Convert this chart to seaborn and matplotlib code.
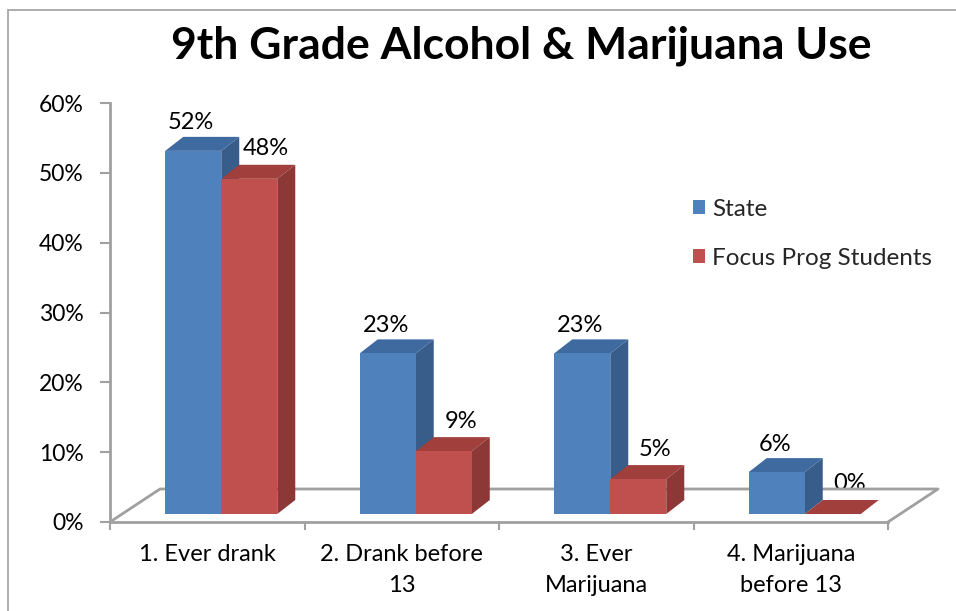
import matplotlib
matplotlib.use("Agg")
import matplotlib.pyplot as plt
import matplotlib.transforms as mtransforms
from matplotlib.patches import Polygon, Patch
from matplotlib.lines import Line2D
import seaborn as sns
import pandas as pd
import numpy as np

categories = ["1. Ever drank", "2. Drank before\n13", "3. Ever\nMarijuana", "4. Marijuana\nbefore 13"]
series = ["State", "Focus Prog Students"]
state_values = [52, 23, 23, 6]
focus_values = [48, 9, 5, 0]
y_ticks = [0, 10, 20, 30, 40, 50, 60]
y_tick_labels = ["0%", "10%", "20%", "30%", "40%", "50%", "60%"]
title = "9th Grade Alcohol & Marijuana Use"

front_colors = ["#4F81BD", "#C0504D"]
side_colors = ["#385D8A", "#8C3836"]
top_colors = ["#3E6AA0", "#A03F3B"]

df = pd.DataFrame({
    "category": categories * 2,
    "series": [series[0]] * 4 + [series[1]] * 4,
    "value": state_values + focus_values,
})

sns.set_style("white")
plt.rcParams["font.family"] = ["Lato", "DejaVu Sans"]

DPI = 100
fig = plt.figure(figsize=(9.56, 6.11), dpi=DPI)
W, H = 956, 611
ax = fig.add_axes([110 / W, 1 - 522 / H, (888 - 110) / W, (522 - 103) / H])
ax.patch.set_alpha(0)

sns.barplot(data=df, x="category", y="value", hue="series", order=categories,
            hue_order=series, palette=front_colors, width=0.576, saturation=1,
            legend=False, ax=ax, edgecolor="none", linewidth=0, zorder=3)

ax.set_xlim(-0.5, 3.5)
ax.set_ylim(0, 60)
ax.set_xlabel("")
ax.set_ylabel("")

# axes styling
gray = "#A0A0A0"
for s in ["top", "right"]:
    ax.spines[s].set_visible(False)
for s in ["left", "bottom"]:
    ax.spines[s].set_color(gray)
    ax.spines[s].set_linewidth(2)
ax.set_yticks(y_ticks)
ax.set_yticklabels(y_tick_labels)
ax.tick_params(axis="y", length=7, width=1.5, color=gray, labelsize=16.5, pad=12,
               labelcolor="black", direction="out", left=True)
ax.set_xticks([-0.5, 0.5, 1.5, 2.5, 3.5])
ax.set_xticklabels([""] * 5)
ax.tick_params(axis="x", which="major", length=6, width=1.5, color=gray,
               direction="out", bottom=True)
ax.set_xticks(range(len(categories)), minor=True)
ax.set_xticklabels(categories, minor=True, fontsize=17, linespacing=1.55)
ax.tick_params(axis="x", which="minor", length=0, pad=16, labelcolor="black")

fig.canvas.draw()

# 3D depth offsets in pixels
base_dx, base_dy = 14, 8          # bars sit slightly back on the floor
depth_dx, depth_dy = 18, 14       # bar depth
floor_dx, floor_dy = 50, 33       # floor depth

offset = mtransforms.ScaledTranslation(base_dx / DPI, base_dy / DPI, fig.dpi_scale_trans)

# floor outline (back/left/right edges)
to_disp = ax.transData.transform
fl = to_disp((-0.5, 0))
fr = to_disp((3.5, 0))
bl = fl + np.array([floor_dx, floor_dy])
br = fr + np.array([floor_dx, floor_dy])
floor_line = Line2D([fl[0], bl[0], br[0], fr[0]], [fl[1], bl[1], br[1], fr[1]],
                    color=gray, lw=2, transform=None, zorder=1)
fig.add_artist(floor_line)

bars_by_series = [list(c) for c in ax.containers]
for si, container in enumerate(bars_by_series):
    for bi, bar in enumerate(container):
        bar.set_transform(ax.transData + offset)
        x0 = bar.get_x()
        x1 = x0 + bar.get_width()
        h = bar.get_height()
        p10 = to_disp((x1, 0)) + [base_dx, base_dy]
        p0h = to_disp((x0, h)) + [base_dx, base_dy]
        p1h = to_disp((x1, h)) + [base_dx, base_dy]
        d = np.array([depth_dx, depth_dy])
        side = Polygon([p10, p1h, p1h + d, p10 + d], closed=True,
                       facecolor=side_colors[si], edgecolor="none",
                       transform=None, zorder=2 + 0.1 * bi)
        top = Polygon([p0h, p1h, p1h + d, p0h + d], closed=True,
                      facecolor=top_colors[si], edgecolor="none",
                      transform=None, zorder=2 + 0.1 * bi)
        fig.add_artist(side)
        fig.add_artist(top)
        # data label (offsets in pixels converted to points)
        xc = (x0 + x1) / 2
        if si == 0:
            off_px = (base_dx - 2, base_dy + 28)
        else:
            off_px = (base_dx + 17, base_dy + 30)
        ax.annotate(f"{h:.0f}%", xy=(xc, h), xycoords="data",
                    xytext=(off_px[0] * 0.72, off_px[1] * 0.72),
                    textcoords="offset points", ha="center", va="center",
                    fontsize=17, color="black", zorder=6)

# bring the bars above the side/top faces
for container in bars_by_series:
    for bar in container:
        bar.remove()
        fig.add_artist(bar)
        bar.set_zorder(3)

# title
fig.text(521.5 / W, 1 - 59 / H, title, ha="center", va="baseline",
         fontsize=32, fontweight="bold", color="black")

# legend
handles = [Patch(facecolor=front_colors[i], edgecolor="none", label=series[i]) for i in range(2)]
fig.legend(handles=handles, loc="upper left", bbox_to_anchor=(693 / W, 1 - 199 / H),
           frameon=False, fontsize=17.5, handlelength=0.5, handleheight=0.5,
           handletextpad=0.3, labelspacing=1.15, borderpad=0, borderaxespad=0)

# outer border
border = plt.Rectangle((8 / W, -0.1), 1.2, 1 - 10 / H + 0.1, transform=fig.transFigure,
                       fill=False, edgecolor="#A0A0A0", lw=1.2, zorder=0)
fig.add_artist(border)

fig.savefig("out.png", dpi=DPI)
